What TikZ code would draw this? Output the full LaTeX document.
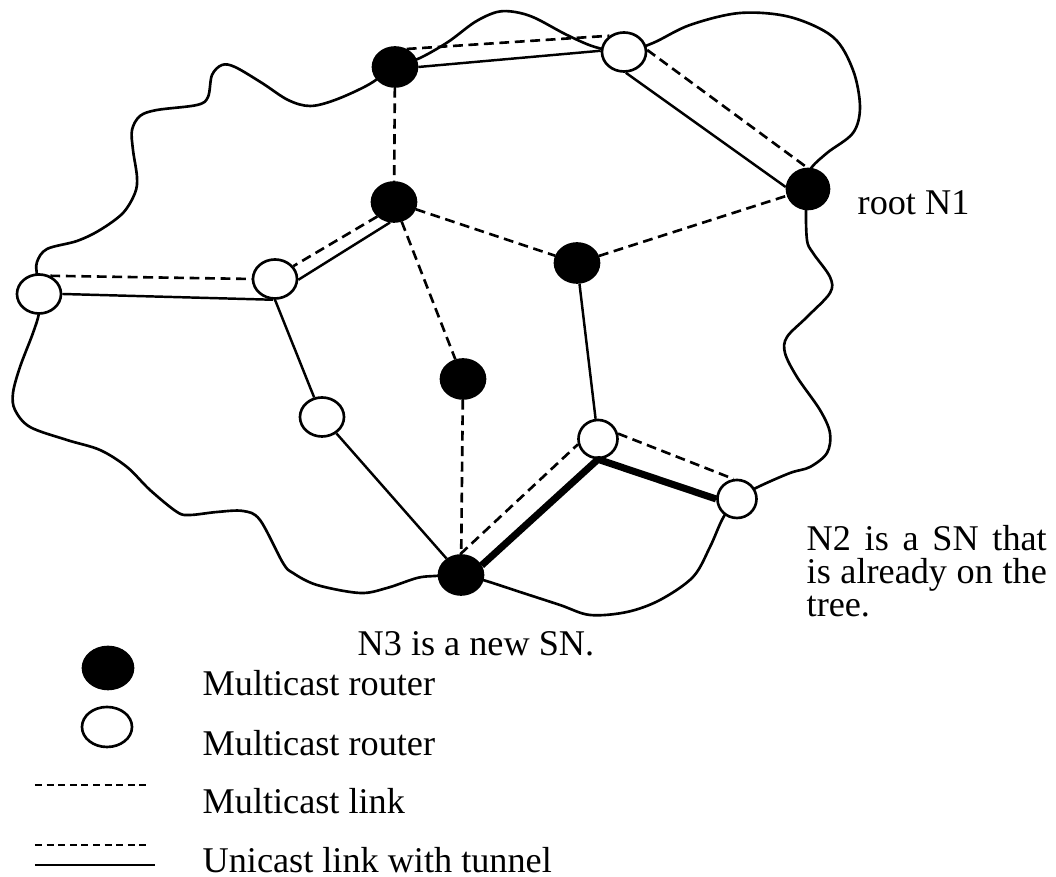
\documentclass[tikz,border=0pt]{standalone}
\usepackage{fontspec}
\setmainfont{Liberation Serif}
\usetikzlibrary{shapes.geometric}
\begin{document}
\begin{tikzpicture}[x=0.01cm,y=-0.01cm,
  router/.style={ellipse, draw=black, line width=0.75pt, inner sep=0pt,
                 minimum width=0.44cm, minimum height=0.39cm},
  mrouter/.style={router, fill=black},
  urouter/.style={router, fill=white},
  smallrouter/.style={urouter, minimum width=0.39cm, minimum height=0.38cm},
  mlink/.style={line width=0.75pt, dash pattern=on 2.8pt off 1.6pt},
  ulink/.style={line width=0.7pt},
  newlink/.style={line width=2pt, line join=round},
  cloud/.style={line width=0.75pt},
  lbl/.style={font=\fontsize{10.3pt}{9.3pt}\selectfont, inner sep=0pt},
  keydash/.style={line width=0.55pt, dash pattern=on 2pt off 1.3pt}
]
\useasboundingbox (0,0) rectangle (1056,877);

% network boundary
\draw[cloud] plot[smooth cycle, tension=0.55] coordinates {
  (37,276) (37,262) (47,249) (77,241) (100,230) (123,213) (135,193)
  (137,177) (133,150) (132,130) (140,116) (157,110) (197,105) (208,97)
  (212,75) (222,65) (235,67) (262,83) (288,100) (310,106) (335,100)
  (368,85) (395,67) (420,58) (448,42) (475,22) (497,12) (515,12)
  (535,18) (567,35) (595,47) (624,52) (653,43) (690,25) (740,13)
  (790,17) (833,37) (853,70) (860,107) (853,133) (827,153) (810,170)
  (808,189) (806,205) (807,240) (813,253) (830,277) (830,293) (807,317)
  (787,337) (785,353) (797,377) (820,410) (830,433) (827,453) (810,467)
  (790,473) (758,487) (737,499) (723,518) (710,547) (693,577) (660,600)
  (627,612) (590,615) (560,605) (520,592) (483,580) (461,575) (435,576)
  (417,578) (387,588) (360,593) (317,585) (293,573) (283,563) (260,520)
  (243,511) (217,512) (190,515) (177,512) (150,490) (127,467) (100,450)
  (67,440) (30,427) (15,410) (13,393) (20,367) (33,333) (39,313) (39,294)};

% routers
\node[mrouter] (b1) at (395,67) {};
\node[urouter] (w1) at (624,52) {};
\node[mrouter, minimum width=0.42cm, minimum height=0.40cm] (n1) at (808,189) {};
\node[mrouter] (b2) at (394,202) {};
\node[mrouter] (b3) at (577,263) {};
\node[urouter] (wl) at (39,294) {};
\node[urouter] (w2) at (275,279) {};
\node[mrouter] (b4) at (463,379) {};
\node[urouter] (w3) at (322,417) {};
\node[mrouter] (n3) at (461,575) {};
\node[smallrouter] (w4) at (598,439) {};
\node[smallrouter] (w5) at (737,499) {};

% multicast links
\draw[mlink] (b1) -- (b2);
\draw[mlink] (b2) -- (b3);
\draw[mlink] (b3) -- (n1);
\draw[mlink] (b2) -- (b4);
\draw[mlink] (b4) -- (n3);

% unicast links
\draw[ulink] (w2.south) -- (w3);
\draw[ulink] (w3) -- (n3);
\draw[ulink] (b3) -- (w4);

% unicast links with tunnel
\draw[mlink] (b1.57) -- (w1.132);
\draw[ulink] (b1.0) -- (w1.177);
\draw[mlink] (w1.5) -- (n1.92);
\draw[ulink] (w1.275) -- (n1.175);
\draw[mlink] (b2.221) -- (w2.35);
\draw[ulink] (b2.259) -- (w2.-2);
\draw[mlink] (wl.58) -- (w2.180);
\draw[ulink] (wl.0) -- (w2.265);

% path from the new SN to the tree
\draw[mlink] (n3.92) -- (w4.195);
\draw[mlink] (w4.15) -- (w5.100);
\draw[newlink] (n3.25) -- (w4.south) -- (w5.180);

% labels
\node[lbl, anchor=west] (lroot) at (857,203) {root N1};
\node[lbl, anchor=north west, align=left] (ln2) at (806,525)
  {\makebox[2.40cm][s]{N2 is a SN that}\\\makebox[2.40cm][s]{is already on the}\\tree.};
\node[lbl, anchor=west] (ln3) at (357,644) {N3 is a new SN.};

% legend
\node[mrouter, minimum width=0.50cm, minimum height=0.42cm] (kb) at (108,668) {};
\node[urouter, minimum width=0.50cm, minimum height=0.40cm] (kw) at (107,727) {};
\coordinate (km1) at (35,785);  \coordinate (km2) at (148,785);
\coordinate (kt1) at (35,845);  \coordinate (kt2) at (148,845);
\coordinate (ku1) at (35,865);  \coordinate (ku2) at (155,865);
\draw[keydash] (km1) -- (km2);
\draw[keydash] (kt1) -- (kt2);
\draw[ulink] (ku1) -- (ku2);
\node[lbl, anchor=west] (tkb) at (202,683) {Multicast router};
\node[lbl, anchor=west] (tkw) at (202,743) {Multicast router};
\node[lbl, anchor=west] (tkm) at (202,801) {Multicast link};
\node[lbl, anchor=west] (tku) at (202,860) {Unicast link with tunnel};
\end{tikzpicture}
\end{document}
